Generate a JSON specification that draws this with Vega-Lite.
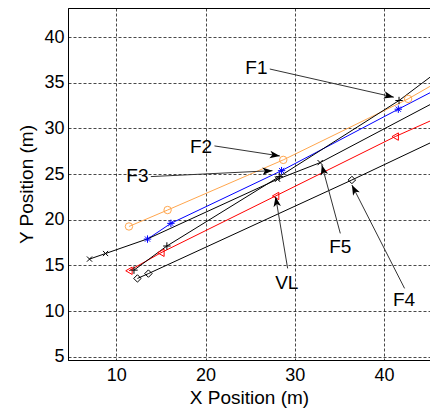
{
  "$schema": "https://vega.github.io/schema/vega-lite/v6.json",
  "autosize": "none",
  "width": 362,
  "height": 352,
  "padding": {"left": 68, "top": 8, "right": 0, "bottom": 53},
  "background": "white",
  "config": {
    "font": "Liberation Sans",
    "view": {"stroke": "black", "strokeWidth": 1},
    "axis": {
      "domainColor": "black",
      "grid": true,
      "gridColor": "black",
      "gridDash": [3, 2],
      "gridOpacity": 0.9,
      "gridWidth": 0.8,
      "ticks": false,
      "labelColor": "black",
      "labelFont": "Liberation Sans",
      "labelFontSize": 18,
      "titleColor": "black",
      "titleFont": "Liberation Sans",
      "titleFontSize": 19,
      "titleFontWeight": "normal"
    }
  },
  "datasets": {
    "paths": [
      {"robot": "F2", "x": 11.42, "y": 19.26},
      {"robot": "F2", "x": 15.75, "y": 21.06},
      {"robot": "F2", "x": 28.71, "y": 26.55},
      {"robot": "F2", "x": 42.7, "y": 33.23},
      {"robot": "F2", "x": 45.15, "y": 34.6},
      {"robot": "F3", "x": 13.5, "y": 17.88},
      {"robot": "F3", "x": 16.12, "y": 19.6},
      {"robot": "F3", "x": 28.52, "y": 25.37},
      {"robot": "F3", "x": 41.6, "y": 32.1},
      {"robot": "F3", "x": 45.15, "y": 33.9},
      {"robot": "VL", "x": 11.42, "y": 14.41},
      {"robot": "VL", "x": 15.0, "y": 16.38},
      {"robot": "VL", "x": 27.85, "y": 22.6},
      {"robot": "VL", "x": 41.25, "y": 29.1},
      {"robot": "VL", "x": 45.15, "y": 30.8},
      {"robot": "F4", "x": 12.37, "y": 13.57},
      {"robot": "F4", "x": 13.6, "y": 14.1},
      {"robot": "F4", "x": 36.4, "y": 24.35},
      {"robot": "F4", "x": 45.15, "y": 28.4},
      {"robot": "F1", "x": 11.98, "y": 14.48},
      {"robot": "F1", "x": 15.67, "y": 17.12},
      {"robot": "F1", "x": 28.26, "y": 24.72},
      {"robot": "F1", "x": 41.68, "y": 33.05},
      {"robot": "F1", "x": 45.15, "y": 35.6},
      {"robot": "F5", "x": 7.0, "y": 15.69},
      {"robot": "F5", "x": 8.8, "y": 16.3},
      {"robot": "F5", "x": 13.5, "y": 17.9},
      {"robot": "F5", "x": 28.07, "y": 24.43},
      {"robot": "F5", "x": 32.84, "y": 26.25},
      {"robot": "F5", "x": 45.15, "y": 32.6}
    ],
    "snapshots": [
      {"robot": "F2", "x": 11.42, "y": 19.26},
      {"robot": "F2", "x": 15.75, "y": 21.06},
      {"robot": "F2", "x": 28.71, "y": 26.55},
      {"robot": "F2", "x": 42.7, "y": 33.23},
      {"robot": "F3", "x": 13.5, "y": 17.88},
      {"robot": "F3", "x": 16.12, "y": 19.6},
      {"robot": "F3", "x": 28.52, "y": 25.37},
      {"robot": "F3", "x": 41.6, "y": 32.1},
      {"robot": "VL", "x": 11.42, "y": 14.41},
      {"robot": "VL", "x": 15.0, "y": 16.38},
      {"robot": "VL", "x": 27.85, "y": 22.6},
      {"robot": "VL", "x": 41.25, "y": 29.1},
      {"robot": "F4", "x": 12.37, "y": 13.57},
      {"robot": "F4", "x": 13.6, "y": 14.1},
      {"robot": "F4", "x": 36.4, "y": 24.35},
      {"robot": "F1", "x": 11.98, "y": 14.48},
      {"robot": "F1", "x": 15.67, "y": 17.12},
      {"robot": "F1", "x": 28.26, "y": 24.72},
      {"robot": "F1", "x": 41.68, "y": 33.05},
      {"robot": "F5", "x": 7.0, "y": 15.69},
      {"robot": "F5", "x": 8.8, "y": 16.3},
      {"robot": "F5", "x": 28.07, "y": 24.43},
      {"robot": "F5", "x": 32.84, "y": 26.25}
    ],
    "callouts": [
      {"name": "F1", "lx": 25.7, "ly": 36.6, "x0": 27.2, "y0": 36.5, "x1": 41.1, "y1": 33.42, "dir": 102.8},
      {"name": "F2", "lx": 19.5, "ly": 28.0, "x0": 21.0, "y0": 28.08, "x1": 28.33, "y1": 26.98, "dir": 98.7},
      {"name": "F3", "lx": 12.37, "ly": 24.83, "x0": 13.87, "y0": 24.72, "x1": 27.5, "y1": 25.37, "dir": 87.2},
      {"name": "F5", "lx": 35.1, "ly": 17.04, "x0": 35.1, "y0": 18.5, "x1": 33.03, "y1": 26.0, "dir": -15},
      {"name": "F4", "lx": 42.24, "ly": 11.2, "x0": 42.3, "y0": 12.48, "x1": 36.4, "y1": 23.8, "dir": -26.8},
      {"name": "VL", "lx": 29.1, "ly": 13.03, "x0": 29.2, "y0": 14.67, "x1": 27.85, "y1": 22.52, "dir": -9.5}
    ]
  },
  "layer": [
    {
      "data": {"name": "paths"},
      "mark": {"type": "line", "strokeWidth": 1, "clip": true},
      "encoding": {
        "x": {
          "field": "x", "type": "quantitative",
          "scale": {"domain": [4.59, 45.15], "nice": false, "zero": false},
          "axis": {"values": [10, 20, 30, 40], "title": "X Position (m)", "labelPadding": 6, "titlePadding": 4}
        },
        "y": {
          "field": "y", "type": "quantitative",
          "scale": {"domain": [4.64, 43.18], "nice": false, "zero": false},
          "axis": {"values": [5, 10, 15, 20, 25, 30, 35, 40], "title": "Y Position (m)", "labelPadding": 4, "titlePadding": 7}
        },
        "color": {
          "field": "robot", "type": "nominal", "legend": null,
          "scale": {"domain": ["F1", "F2", "F3", "F4", "F5", "VL"],
                    "range": ["#000000", "#FFA64D", "#0000FF", "#000000", "#000000", "#FF0000"]}
        },
        "detail": {"field": "robot"}
      }
    },
    {
      "data": {"name": "snapshots"},
      "mark": {"type": "point", "filled": false, "strokeWidth": 1, "opacity": 1},
      "encoding": {
        "x": {"field": "x", "type": "quantitative"},
        "y": {"field": "y", "type": "quantitative"},
        "color": {"field": "robot", "type": "nominal", "legend": null},
        "size": {
          "field": "robot", "type": "nominal", "legend": null,
          "scale": {"domain": ["F1", "F2", "F3", "F4", "F5", "VL"],
                    "range": [55, 55, 50, 40, 30, 90]}
        },
        "shape": {
          "field": "robot", "type": "nominal", "legend": null,
          "scale": {"domain": ["F1", "F2", "F3", "F4", "F5", "VL"],
                    "range": ["M-1,0L1,0M0,-1L0,1", "circle", "M-1,0L1,0M0,-1L0,1M-0.7,-0.7L0.7,0.7M-0.7,0.7L0.7,-0.7", "diamond", "M-0.7,-0.7L0.7,0.7M-0.7,0.7L0.7,-0.7", "triangle-left"]}
        }
      }
    },
    {
      "data": {"name": "callouts"},
      "mark": {"type": "rule", "color": "#333333", "strokeWidth": 1},
      "encoding": {
        "x": {"field": "x0", "type": "quantitative"},
        "y": {"field": "y0", "type": "quantitative"},
        "x2": {"field": "x1"},
        "y2": {"field": "y1"}
      }
    },
    {
      "data": {"name": "callouts"},
      "mark": {"type": "point", "filled": true, "color": "black", "opacity": 1, "size": 70,
               "shape": "M0,0L-0.9,2.4L0,1.8L0.9,2.4Z"},
      "encoding": {
        "x": {"field": "x1", "type": "quantitative"},
        "y": {"field": "y1", "type": "quantitative"},
        "angle": {"field": "dir", "type": "quantitative", "scale": null}
      }
    },
    {
      "data": {"name": "callouts"},
      "mark": {"type": "text", "font": "Liberation Sans", "fontSize": 19, "color": "black", "align": "center", "baseline": "middle"},
      "encoding": {
        "x": {"field": "lx", "type": "quantitative"},
        "y": {"field": "ly", "type": "quantitative"},
        "text": {"field": "name"}
      }
    }
  ]
}
